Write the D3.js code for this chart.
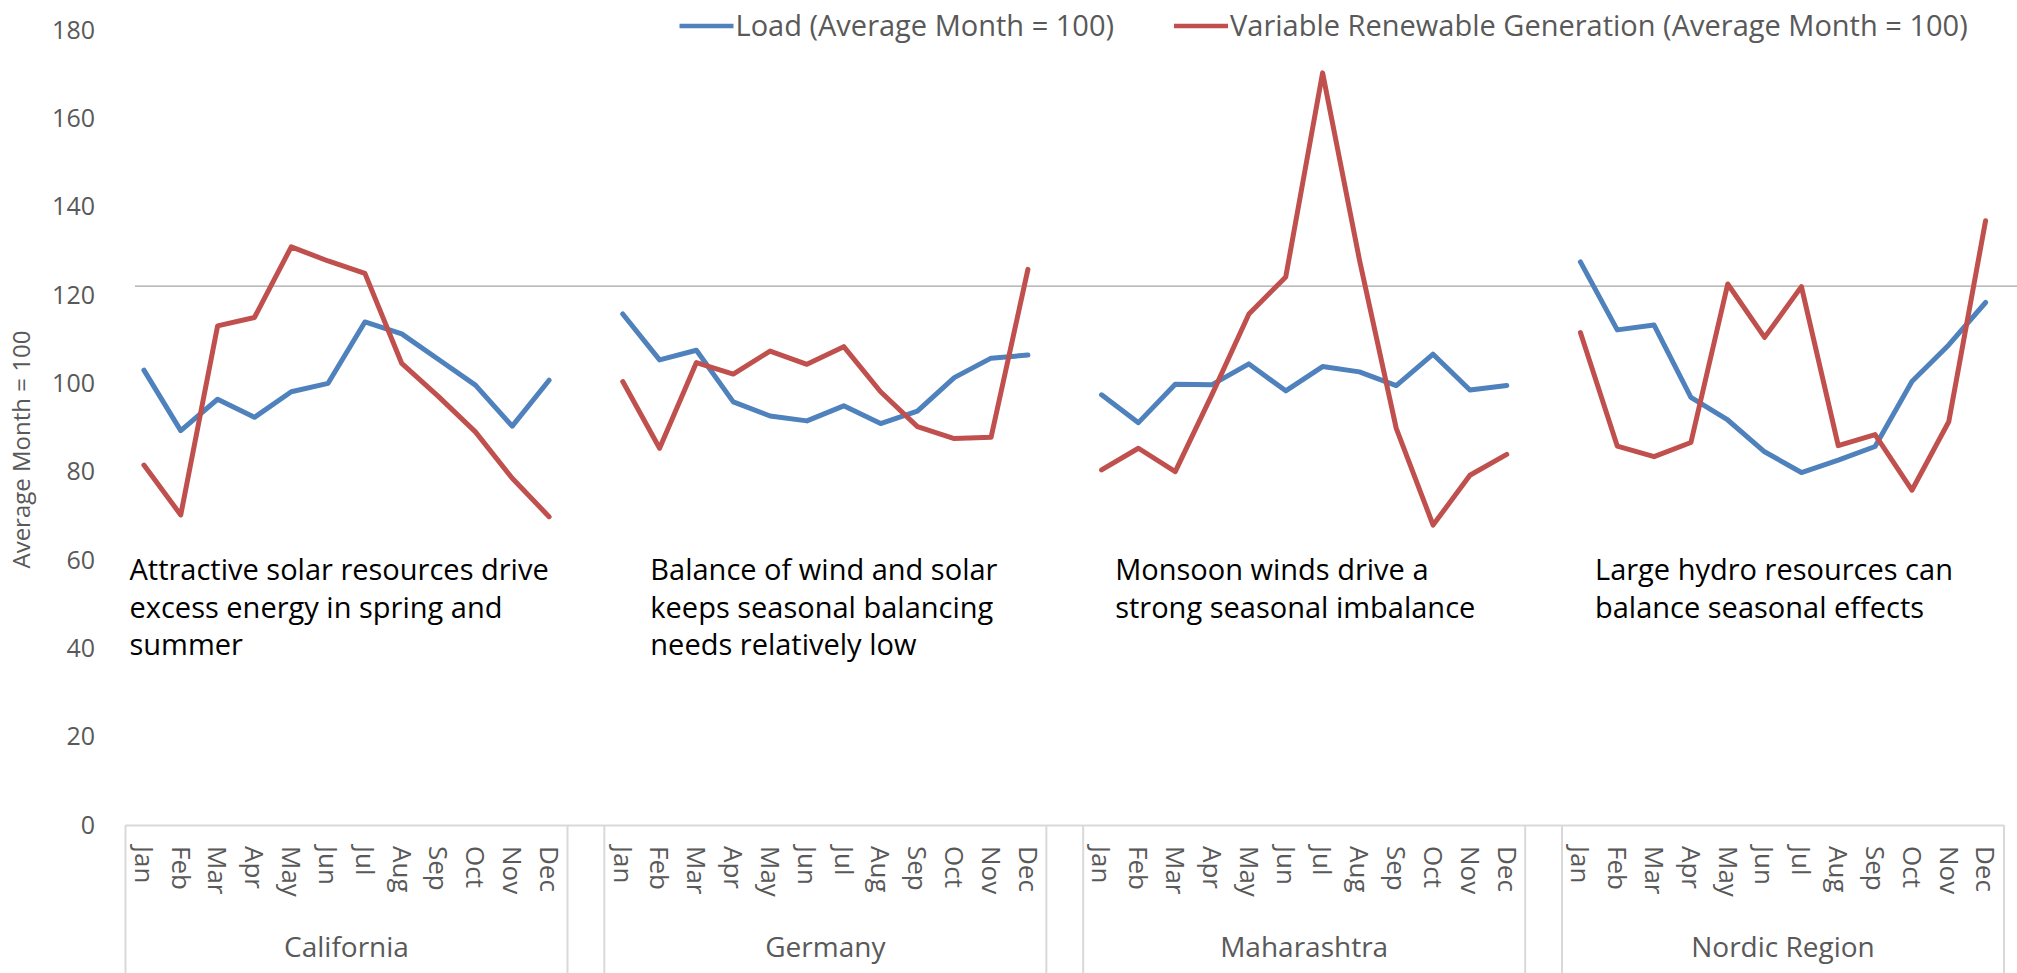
<!DOCTYPE html>
<html>
<head>
<meta charset="utf-8">
<script src="https://cdn.jsdelivr.net/npm/d3@7"></script>
<style>
  body { margin: 0; background: #fff; }
  svg { display: block; font-family: "Open Sans", sans-serif; }
</style>
</head>
<body>
<svg id="chart" width="2017" height="973"></svg>
<script>
// data
const months = ['Jan', 'Feb', 'Mar', 'Apr', 'May', 'Jun', 'Jul', 'Aug', 'Sep', 'Oct', 'Nov', 'Dec']
const regions = ['California', 'Germany', 'Maharashtra', 'Nordic Region']
const loadCalifornia = [103.0, 89.3, 96.4, 92.3, 98.1, 100.0, 113.9, 111.2, 105.4, 99.6, 90.3, 100.7]
const loadGermany = [115.7, 105.3, 107.5, 95.8, 92.6, 91.5, 94.9, 90.9, 93.7, 101.3, 105.7, 106.4]
const loadMaharashtra = [97.4, 91.1, 99.8, 99.7, 104.4, 98.3, 103.8, 102.6, 99.5, 106.6, 98.5, 99.5]
const loadNordic = [127.5, 112.1, 113.2, 96.8, 91.7, 84.5, 79.8, 82.6, 85.7, 100.4, 108.7, 118.3]
const vreCalifornia = [81.5, 70.2, 113.0, 114.9, 130.9, 127.7, 124.9, 104.5, 97.0, 89.0, 78.5, 69.8]
const vreGermany = [100.4, 85.3, 104.7, 102.1, 107.3, 104.3, 108.3, 98.1, 90.2, 87.5, 87.8, 125.8]
const vreMaharashtra = [80.4, 85.3, 80.0, 97.5, 115.7, 124.1, 170.3, 128.0, 89.8, 67.9, 79.2, 83.9]
const vreNordic = [111.5, 85.8, 83.4, 86.6, 122.5, 110.4, 121.9, 85.9, 88.4, 75.8, 91.3, 136.8]
const yTicks = [0, 20, 40, 60, 80, 100, 120, 140, 160, 180]
const refLineValue = 122
const seriesNames = ['Load (Average Month = 100)', 'Variable Renewable Generation (Average Month = 100)']
const notes = [
    ['Attractive solar resources drive', 'excess energy in spring and', 'summer'],
    ['Balance of wind and solar', 'keeps seasonal balancing', 'needs relatively low'],
    ['Monsoon winds drive a', 'strong seasonal imbalance'],
    ['Large hydro resources can', 'balance seasonal effects']
]

const loadByRegion = [loadCalifornia, loadGermany, loadMaharashtra, loadNordic]
const vreByRegion = [vreCalifornia, vreGermany, vreMaharashtra, vreNordic]
const colors = ['#4f81bd', '#c0504d']
const textGrey = '#595959'
const axisGrey = '#d9d9d9'

// layout
const plotLeft = 125.5, plotRight = 2004, plotTop = 30, plotBottom = 825
const noteOffsets = [4, 46, 32, 33]

const svg = d3.select('#chart')

// category keys: 12 months per region, one blank slot between regions
let keys = []
regions.forEach((r, i) => {
    months.forEach(m => keys.push(r + '|' + m))
    if (i < regions.length - 1) keys.push('gap' + i)
})

const x = d3.scaleBand().domain(keys).range([plotLeft, plotRight])
const y = d3.scaleLinear().domain([0, 180]).range([plotBottom, plotTop])

// y tick labels (no axis line, no gridlines)
svg.append('g').selectAll('text')
    .data(yTicks)
    .join('text')
    .attr('x', 95)
    .attr('y', d => y(d))
    .attr('dy', '0.35em')
    .attr('text-anchor', 'end')
    .attr('fill', textGrey)
    .attr('font-size', 25)
    .text(d => d)

svg.append('text')
    .attr('transform', `translate(30,${y(85)}) rotate(-90)`)
    .attr('text-anchor', 'middle')
    .attr('fill', textGrey)
    .attr('font-size', 24)
    .text('Average Month = 100')

// reference line
svg.append('line')
    .attr('x1', 135).attr('x2', 2017)
    .attr('y1', y(refLineValue)).attr('y2', y(refLineValue))
    .attr('stroke', '#a6a6a6').attr('stroke-width', 1.3)

// category axis
svg.append('line')
    .attr('x1', plotLeft).attr('x2', plotRight)
    .attr('y1', plotBottom + 0.5).attr('y2', plotBottom + 0.5)
    .attr('stroke', axisGrey).attr('stroke-width', 2)

let bounds = []
regions.forEach(r => {
    bounds.push(x(r + '|Jan'))
    bounds.push(x(r + '|Dec') + x.bandwidth())
})
svg.append('g').selectAll('line')
    .data(bounds)
    .join('line')
    .attr('x1', d => d).attr('x2', d => d)
    .attr('y1', plotBottom).attr('y2', 973)
    .attr('stroke', axisGrey).attr('stroke-width', 2)

svg.append('g').selectAll('text')
    .data(keys.filter(k => k.includes('|')))
    .join('text')
    .attr('transform', d => `translate(${x(d) + x.bandwidth() / 2},${plotBottom + 21}) rotate(90)`)
    .attr('dy', '0.35em')
    .attr('fill', textGrey)
    .attr('font-size', 26)
    .text(d => d.split('|')[1])

svg.append('g').selectAll('text')
    .data(regions)
    .join('text')
    .attr('x', r => (x(r + '|Jan') + x(r + '|Dec') + x.bandwidth()) / 2)
    .attr('y', 947)
    .attr('dy', '0.35em')
    .attr('text-anchor', 'middle')
    .attr('fill', textGrey)
    .attr('font-size', 28)
    .text(r => r)

// lines, one path per region and series
const line = d3.line()
    .x(d => x(d.key) + x.bandwidth() / 2)
    .y(d => y(d.value))

let paths = []
regions.forEach((r, i) => {
    [loadByRegion[i], vreByRegion[i]].forEach((vals, s) => {
        paths.push({
            series: s,
            points: vals.map((v, j) => ({ key: r + '|' + months[j], value: v }))
        })
    })
})
svg.append('g').selectAll('path')
    .data(paths)
    .join('path')
    .attr('d', d => line(d.points))
    .attr('fill', 'none')
    .attr('stroke', d => colors[d.series])
    .attr('stroke-width', 5)
    .attr('stroke-linejoin', 'round')
    .attr('stroke-linecap', 'round')

// annotations
regions.forEach((r, i) => {
    let tx = x(r + '|Jan') + noteOffsets[i]
    let t = svg.append('text')
        .attr('x', tx)
        .attr('y', 580)
        .attr('fill', '#000')
        .attr('font-size', 29)
    notes[i].forEach((s, k) => {
        t.append('tspan')
            .attr('x', tx)
            .attr('dy', k == 0 ? 0 : 37.7)
            .text(s)
    })
})

// legend
const legendX = [679.5, 1174]
seriesNames.forEach((name, i) => {
    let g = svg.append('g').attr('transform', `translate(${legendX[i]},26)`)
    g.append('line')
        .attr('x1', 0).attr('x2', 54)
        .attr('stroke', colors[i]).attr('stroke-width', 4.5)
    g.append('text')
        .attr('x', 56)
        .attr('dy', '0.35em')
        .attr('fill', textGrey)
        .attr('font-size', 29)
        .text(name)
})
</script>
</body>
</html>
